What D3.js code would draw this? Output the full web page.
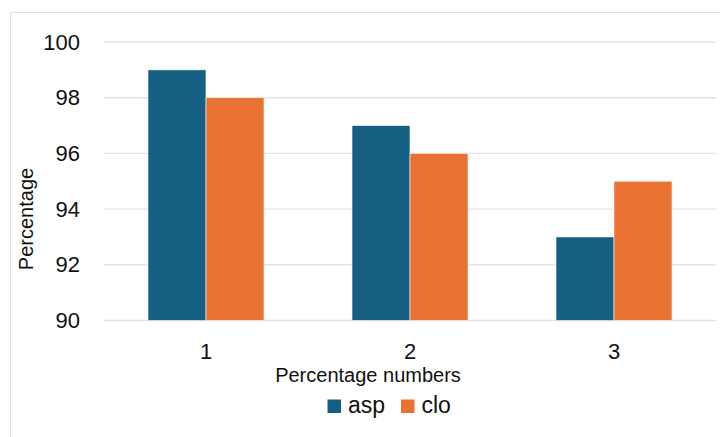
<!DOCTYPE html>
<html>
<head>
<meta charset="utf-8">
<script src="https://cdn.jsdelivr.net/npm/d3@7"></script>
<style>
  html, body { margin: 0; padding: 0; background: #fff; }
  svg { display: block; font-family: "Liberation Sans", Arial, sans-serif; }
</style>
</head>
<body>
<svg id="chart" width="720" height="437"></svg>
<script>
// Groups along the x axis and the two series plotted for each
const categories = ["1", "2", "3"];
const seriesNames = ["asp", "clo"];
const aspValues = [99, 97, 93];
const cloValues = [98, 96, 95];
const yTicks = [90, 92, 94, 96, 98, 100];

const colors = { asp: "#156082", clo: "#E97132" };

const rows = categories.map((c, i) => ({ category: c, asp: aspValues[i], clo: cloValues[i] }));

const svg = d3.select("#chart");

// outer chart frame
svg.append("rect")
  .attr("x", 10.5).attr("y", 12.5)
  .attr("width", 740).attr("height", 460)
  .attr("fill", "none")
  .attr("stroke", "#e2e2e2")
  .attr("stroke-width", 1);

const plot = { left: 104, right: 716, top: 42, bottom: 320.5 };

const x0 = d3.scaleBand()
  .domain(categories)
  .range([plot.left, plot.right])
  .padding(0);

const x1 = d3.scaleBand()
  .domain(seriesNames)
  .range([0, x0.bandwidth()])
  .paddingInner(0)
  .paddingOuter(0.759);

const y = d3.scaleLinear()
  .domain([90, 100])
  .range([plot.bottom, plot.top]);

// horizontal gridlines
svg.append("g")
  .selectAll("line")
  .data(yTicks)
  .join("line")
  .attr("x1", plot.left).attr("x2", plot.right)
  .attr("y1", d => y(d)).attr("y2", d => y(d))
  .attr("stroke", "#e3e3e3")
  .attr("stroke-width", 1.4);

// y axis tick labels
const yAxis = d3.axisLeft(y).tickValues(yTicks).tickSize(0).tickPadding(0);
svg.append("g")
  .attr("transform", "translate(80,0)")
  .call(yAxis)
  .call(g => g.select(".domain").remove())
  .call(g => g.selectAll("text")
    .attr("font-size", 22)
    .attr("font-family", "Liberation Sans, Arial, sans-serif")
    .attr("fill", "#111"));

// bars
svg.append("g")
  .selectAll("g")
  .data(rows)
  .join("g")
  .attr("transform", d => `translate(${x0(d.category)},0)`)
  .selectAll("rect")
  .data(d => seriesNames.map(k => ({ key: k, value: d[k] })))
  .join("rect")
  .attr("x", d => x1(d.key))
  .attr("width", x1.bandwidth())
  .attr("y", d => y(d.value))
  .attr("height", d => y(90) - y(d.value))
  .attr("fill", d => colors[d.key])
  .attr("stroke", "#ffffff")
  .attr("stroke-opacity", 0.7)
  .attr("stroke-width", 0.8);

// x axis category labels
const xAxis = d3.axisBottom(x0).tickSize(0).tickPadding(0);
svg.append("g")
  .attr("transform", `translate(0,${plot.bottom})`)
  .call(xAxis)
  .call(g => g.select(".domain").remove())
  .call(g => g.selectAll("text")
    .attr("dy", null)
    .attr("y", 38.5)
    .attr("font-size", 22)
    .attr("font-family", "Liberation Sans, Arial, sans-serif")
    .attr("fill", "#111"));

// axis titles
svg.append("text")
  .attr("x", (plot.left + plot.right) / 2 - 42)
  .attr("y", 382)
  .attr("text-anchor", "middle")
  .attr("font-size", 20)
  .attr("fill", "#111")
  .text("Percentage numbers");

svg.append("text")
  .attr("transform", "translate(33,219) rotate(-90)")
  .attr("text-anchor", "middle")
  .attr("font-size", 20)
  .attr("fill", "#111")
  .text("Percentage");

// legend
const legendItems = [
  { key: "asp", x: 327.5 },
  { key: "clo", x: 401 }
];
const legend = svg.append("g")
  .selectAll("g")
  .data(legendItems)
  .join("g")
  .attr("transform", d => `translate(${d.x},399.5)`);
legend.append("rect")
  .attr("width", 13.5).attr("height", 13.5)
  .attr("fill", d => colors[d.key]);
legend.append("text")
  .attr("x", 20.5)
  .attr("y", 13)
  .attr("font-size", 23)
  .attr("fill", "#111")
  .text(d => d.key);
</script>
</body>
</html>
